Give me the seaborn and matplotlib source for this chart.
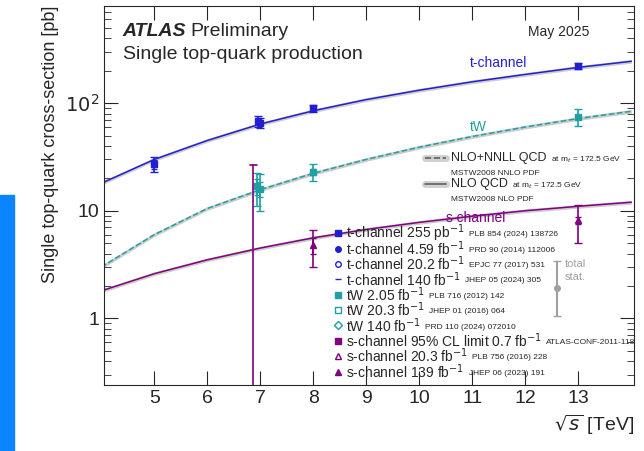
import matplotlib
matplotlib.use("Agg")
import matplotlib.pyplot as plt
import numpy as np
import seaborn as sns

sns.set_style("ticks")
plt.rcParams['font.family'] = ['Liberation Sans', 'DejaVu Sans']

# theory curves
sqrts_th = [4, 5, 6, 7, 8, 9, 10, 11, 12, 13, 14]
tch_th = [18, 30, 45, 64, 85, 108, 132, 158, 185, 215, 245]
tw_th = [3.0, 6.0, 10.5, 15.7, 22.3, 30, 39, 49, 60, 72, 84]
sch_th = [1.8, 2.6, 3.5, 4.5, 5.6, 6.7, 7.8, 8.9, 10.0, 11.0, 12.0]

# measurements: (sqrt(s), value, stat err, total err)
tch_x = [5.0, 6.95, 7.0, 8.0, 13.0]
tch_y = [27.1, 68, 66, 89.6, 221]
tch_stat = [2.5, 2, 2, 1.2, 4]
tch_tot = [4.4, 8, 7, 7.1, 13]
tw_x = [6.93, 7.0, 8.0, 13.0]
tw_y = [16.8, 16, 23.0, 75]
tw_stat = [2.9, 2.5, 1.3, 1]
tw_tot = [5.7, 6, 4.0, 14]
sch_x = [8.0, 13.0]
sch_y = [4.8, 8.2]
sch_stat = [0.8, 0.6]
sch_tot = [1.8, 3.2]
sch_limit_x = 6.87
sch_limit = 26.5

blue = '#2020d0'
teal = '#20a0a0'
purple = '#800080'

fig = plt.figure(figsize=(6.44, 4.51), dpi=100)
fig.patches.append(plt.Rectangle((0, 0), 14 / 644, 256 / 451, transform=fig.transFigure,
                                 color='#0a84ff', zorder=-1))
ax = fig.add_axes([104 / 644, 66 / 451, 530 / 644, 379 / 451])

x = np.array(sqrts_th)
for y, c, ls in [(tch_th, blue, '-'), (tw_th, teal, '--'), (sch_th, purple, '-')]:
    y = np.array(y, dtype=float)
    ax.fill_between(x, y * 0.96, y * 1.04, color='#b8b8b8', alpha=0.7, lw=0)
    sns.lineplot(x=x, y=y, color=c, ls=ls, lw=1.1, ax=ax)

def meas(xs, ys, st, tot, c, m, fill=True):
    ax.errorbar(xs, ys, yerr=tot, fmt='none', ecolor=c, capsize=3, lw=1.2)
    ax.errorbar(xs, ys, yerr=st, fmt='none', ecolor=c, capsize=2, lw=1.2)
    ax.plot(xs, ys, ls='none', marker=m, color=c, ms=5,
            mfc=c if fill else 'white')

meas(tch_x, tch_y, tch_stat, tch_tot, blue, 's')
meas(tw_x, tw_y, tw_stat, tw_tot, teal, 's')
meas(sch_x, sch_y, sch_stat, sch_tot, purple, '^')
ax.plot([sch_limit_x, sch_limit_x], [0.1, sch_limit], color=purple, lw=1.2)
ax.plot([sch_limit_x - 0.07, sch_limit_x + 0.07], [sch_limit] * 2, color=purple, lw=1.2)

# total/stat key
ax.errorbar([12.6], [1.9], yerr=[[1.9 - 1.05], [3.4 - 1.9]], fmt='o', color='#a0a0a0', capsize=3, ms=4)
ax.text(12.75, 3.0, 'total', color='#a0a0a0', fontsize=8)
ax.text(12.75, 2.25, 'stat.', color='#a0a0a0', fontsize=8)

ax.set_yscale('log')
ax.set_xlim(4.05, 14.05)
ax.set_ylim(0.24, 800)
ax.set_xticks(range(5, 14))
ax.set_yticks([1, 10, 100])
ax.set_yticklabels(['1', '10', '$10^2$'])
ax.tick_params(which='both', direction='in', top=True, right=True, labelsize=14)
ax.tick_params(which='major', length=10)
ax.tick_params(which='minor', length=5)
ax.set_xlabel(r'$\sqrt{s}$ [TeV]', fontsize=14, loc='right')
ax.set_ylabel('Single top-quark cross-section [pb]', fontsize=13, loc='top')

tr = ax.transAxes
fig.canvas.draw()

def after(t, gap=0.008):
    return t.get_window_extent().transformed(tr.inverted()).x1 + gap

t = ax.text(0.035, 0.92, 'ATLAS', transform=tr, fontsize=14, weight='bold', style='italic')
ax.text(after(t), 0.92, 'Preliminary', transform=tr, fontsize=14)
ax.text(0.035, 0.86, 'Single top-quark production', transform=tr, fontsize=14)
ax.text(0.80, 0.92, 'May 2025', transform=tr, fontsize=10)
ax.text(0.69, 0.84, 't-channel', transform=tr, fontsize=10, color=blue)
ax.text(0.69, 0.67, 'tW', transform=tr, fontsize=10, color=teal)
ax.text(0.645, 0.43, 's-channel', transform=tr, fontsize=10, color=purple)

# theory key
ax.plot([0.605, 0.645], [0.598] * 2, transform=tr, color='#d0d0d0', lw=5)
ax.plot([0.605, 0.645], [0.598] * 2, transform=tr, color='#606060', lw=1.2, ls='--')
t = ax.text(0.655, 0.59, 'NLO+NNLL QCD', transform=tr, fontsize=9)
ax.text(after(t), 0.59, 'at m$_t$ = 172.5 GeV', transform=tr, fontsize=6)
ax.text(0.655, 0.553, 'MSTW2008 NNLO PDF', transform=tr, fontsize=6)
ax.plot([0.605, 0.645], [0.531] * 2, transform=tr, color='#d0d0d0', lw=5)
ax.plot([0.605, 0.645], [0.531] * 2, transform=tr, color='#606060', lw=1.2)
t = ax.text(0.655, 0.522, 'NLO QCD', transform=tr, fontsize=9)
ax.text(after(t), 0.522, 'at m$_t$ = 172.5 GeV', transform=tr, fontsize=6)
ax.text(0.655, 0.485, 'MSTW2008 NLO PDF', transform=tr, fontsize=6)

entries = [
    ('t-channel 255 pb$^{-1}$', 'PLB 854 (2024) 138726', blue, 's', True),
    ('t-channel 4.59 fb$^{-1}$', 'PRD 90 (2014) 112006', blue, 'o', True),
    ('t-channel 20.2 fb$^{-1}$', 'EPJC 77 (2017) 531', blue, 'o', False),
    ('t-channel 140 fb$^{-1}$', 'JHEP 05 (2024) 305', blue, '_', True),
    ('tW 2.05 fb$^{-1}$', 'PLB 716 (2012) 142', teal, 's', True),
    ('tW 20.3 fb$^{-1}$', 'JHEP 01 (2016) 064', teal, 's', False),
    ('tW 140 fb$^{-1}$', 'PRD 110 (2024) 072010', teal, 'D', False),
    ('s-channel 95% CL limit 0.7 fb$^{-1}$', 'ATLAS-CONF-2011-118', purple, 's', True),
    ('s-channel 20.3 fb$^{-1}$', 'PLB 756 (2016) 228', purple, '^', False),
    ('s-channel 139 fb$^{-1}$', 'JHEP 06 (2023) 191', purple, '^', True),
]
y0, dy = 0.40, 0.0405
for i, (lab, ref, c, m, fill) in enumerate(entries):
    yy = y0 - i * dy
    ax.plot([0.442], [yy], transform=tr, marker=m, color=c, ms=4, mfc=c if fill else 'white', clip_on=False)
    t = ax.text(0.457, yy, lab, transform=tr, fontsize=10, va='center')
    ax.text(after(t), yy - 0.004, ref, transform=tr, fontsize=6, va='center')

fig.savefig('out.png', dpi=100)
